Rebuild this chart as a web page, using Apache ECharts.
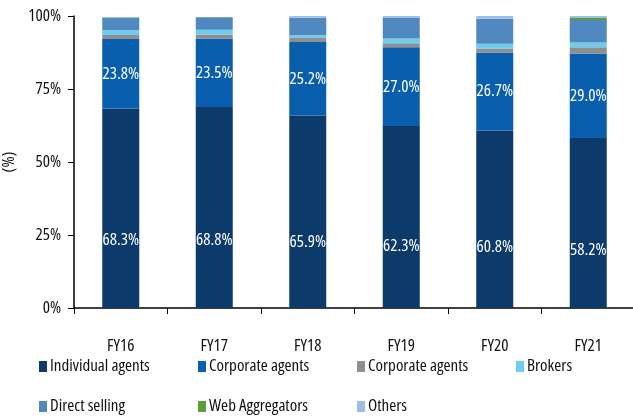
<!DOCTYPE html>
<html>
<head>
<meta charset="utf-8">
<script src="https://cdn.jsdelivr.net/npm/echarts@6/dist/echarts.min.js"></script>
<style>
  html, body { margin: 0; padding: 0; background: #fff; }
  #chart { width: 633px; height: 418px; }
</style>
</head>
<body>
<div id="chart"></div>
<script>
var years = ['FY16', 'FY17', 'FY18', 'FY19', 'FY20', 'FY21']
var yTicks = ['0%', '25%', '50%', '75%', '100%']

// share of channel (%)
var individualAgents = [68.3, 68.8, 65.9, 62.3, 60.8, 58.2]
var corporateAgents = [23.8, 23.5, 25.2, 27.0, 26.7, 29.0]
var corporateAgents2 = [1.4, 1.4, 1.4, 1.4, 1.4, 2.1]
var brokers = [1.6, 1.6, 0.9, 1.6, 1.6, 1.6]
var directSelling = [4.4, 4.3, 6.0, 7.0, 8.6, 7.7]
var webAggregators = [0, 0, 0, 0, 0, 0.7]
var others = [0, 0, 0.6, 0.7, 0.9, 0.7]

var legendRows = [
    ['Individual agents', 'Corporate agents', 'Corporate agents ', 'Brokers'],
    ['Direct selling', 'Web Aggregators', 'Others']
]

// narrow look: Open Sans with font-stretch condensed (goes through fontWeight slot)
var FONT = '"Open Sans", "Liberation Sans", sans-serif'
var STRETCH = 'condensed'

var chart = echarts.init(document.getElementById('chart'))

function mkSeries(name, data, color, labelPos) {
    return {
        name: name,
        type: 'bar',
        stack: 'total',
        data: data,
        barWidth: 37,
        itemStyle: { color: color },
        label: {
            show: !!labelPos,
            position: labelPos || 'inside',
            align: 'center',
            verticalAlign: 'middle',
            color: '#fff',
            fontFamily: FONT,
            fontWeight: STRETCH,
            fontSize: 17,
            formatter: function (p) { return p.value.toFixed(1) + '%' }
        },
        emphasis: { disabled: true }
    }
}

var legends = []
legendRows.forEach(function (row, r) {
    row.forEach(function (name, i) {
        legends.push({
            left: 39 + i * 159,
            top: 358 + r * 40,
            padding: 0,
            itemWidth: 8,
            itemHeight: 11,
            icon: 'rect',
            selectedMode: false,
            data: [name],
            textStyle: { fontFamily: FONT, fontWeight: STRETCH, fontSize: 17, color: '#111', padding: [0, 0, 0, -2] }
        })
    })
})

var option = {
    animation: false,
    grid: { left: 74, top: 16, width: 561, height: 292, outerBoundsMode: 'none', containLabel: false },
    legend: legends,
    xAxis: {
        type: 'category',
        data: years,
        axisLine: { lineStyle: { color: '#000', width: 1.5 } },
        axisTick: { show: true, length: 6, lineStyle: { color: '#000' } },
        axisLabel: { color: '#111', fontFamily: FONT, fontWeight: STRETCH, fontSize: 17, margin: 30 }
    },
    yAxis: {
        type: 'value',
        min: 0,
        max: 100,
        interval: 25,
        name: '(%)',
        nameLocation: 'middle',
        nameRotate: 90,
        nameGap: 42,
        nameTextStyle: { color: '#111', fontFamily: FONT, fontWeight: STRETCH, fontSize: 17 },
        axisLine: { show: true, lineStyle: { color: '#000', width: 1.5 } },
        axisTick: { show: true, length: 6, lineStyle: { color: '#000' } },
        splitLine: { show: false },
        axisLabel: {
            color: '#111', fontFamily: FONT, fontWeight: STRETCH, fontSize: 17, margin: 13,
            formatter: function (v) { return yTicks[v / 25] }
        }
    },
    series: [
        mkSeries('Individual agents', individualAgents, '#0b3a6b', ['50%', '66%']),
        mkSeries('Corporate agents', corporateAgents, '#0a5eae', ['50%', '50%']),
        mkSeries('Corporate agents ', corporateAgents2, '#8f8f8f'),
        mkSeries('Brokers', brokers, '#6ecdee'),
        mkSeries('Direct selling', directSelling, '#4f89c0'),
        mkSeries('Web Aggregators', webAggregators, '#5e9c3c'),
        mkSeries('Others', others, '#9ebfe2')
    ]
}

chart.setOption(option)
</script>
</body>
</html>
